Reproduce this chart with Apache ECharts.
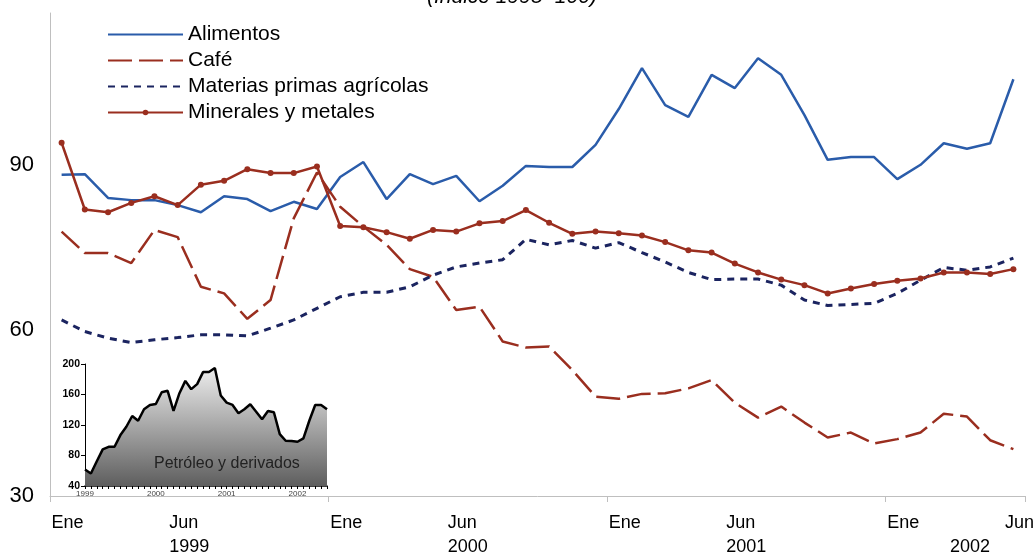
<!DOCTYPE html>
<html>
<head>
<meta charset="utf-8">
<script src="https://cdn.jsdelivr.net/npm/echarts@6/dist/echarts.min.js"></script>
<style>
  html, body { margin: 0; padding: 0; background: #fff; }
  #chart { width: 1035px; height: 557px; }
</style>
</head>
<body>
<div id="chart"></div>
<script>
// meses ene 1999 - jun 2002
const years = ['1999', '2000', '2001', '2002'];
const monthNames = ['Ene', 'Feb', 'Mar', 'Abr', 'May', 'Jun', 'Jul', 'Ago', 'Sep', 'Oct', 'Nov', 'Dic'];
const categories = [];
years.forEach(y => {
  monthNames.forEach(m => {
    if (categories.length < 42) categories.push(m + ' ' + y);
  });
});

const alimentos = [88.2, 88.3, 84.0, 83.6, 83.6, 82.7, 81.4, 84.3, 83.8, 81.6, 83.3, 82.0,
  87.8, 90.5, 83.8, 88.3, 86.5, 88.0, 83.4, 86.2, 89.8, 89.6, 89.6, 93.6,
  100.1, 107.5, 100.8, 98.7, 106.3, 103.9, 109.3, 106.3, 99.0, 90.9, 91.4, 91.4,
  87.4, 90.0, 93.9, 92.9, 93.9, 105.5];

const cafe = [77.9, 74.0, 74.0, 72.2, 78.2, 76.9, 67.9, 66.7, 62.1, 65.5, 80.3, 88.6,
  82.4, 78.8, 75.5, 71.1, 69.7, 63.7, 64.3, 58.0, 56.9, 57.1, 52.8, 48.0,
  47.6, 48.5, 48.6, 49.5, 51.0, 46.9, 44.2, 46.2, 43.3, 40.6, 41.5, 39.5,
  40.3, 41.5, 44.9, 44.4, 40.1, 38.5];

const materias = [61.9, 59.8, 58.6, 57.8, 58.3, 58.7, 59.2, 59.2, 59.0, 60.4, 61.9, 64.0,
  66.1, 66.9, 66.9, 67.9, 70.0, 71.5, 72.2, 72.8, 76.5, 75.5, 76.3, 74.9,
  75.9, 74.1, 72.4, 70.5, 69.2, 69.3, 69.3, 68.2, 65.5, 64.5, 64.7, 64.9,
  66.7, 69.1, 71.4, 70.9, 71.5, 73.1];

const minerales = [94.0, 81.9, 81.4, 83.1, 84.3, 82.7, 86.4, 87.1, 89.2, 88.5, 88.5, 89.7,
  78.9, 78.7, 77.8, 76.6, 78.2, 77.9, 79.4, 79.8, 81.8, 79.5, 77.5, 77.9,
  77.6, 77.2, 76.0, 74.5, 74.1, 72.1, 70.5, 69.2, 68.2, 66.7, 67.6, 68.4,
  69.0, 69.4, 70.5, 70.5, 70.2, 71.1];

const petroleo = [61.6, 56.3, 72.5, 88.0, 91.4, 91.4, 106.8, 117.7, 131.8, 125.6, 140.6, 146.3,
  147.6, 163.0, 164.8, 138.4, 161.7, 177.9, 167.0, 173.6, 189.4, 189.4, 194.7, 158.6,
  149.4, 146.3, 135.4, 140.6, 147.2, 137.5, 127.5, 138.4, 136.7, 108.1, 99.3, 98.9,
  98.0, 102.5, 125.6, 146.3, 146.3, 140.6];

// donde va el año debajo de los meses
const yearLabelAt = { 5: '1999', 17: '2000', 29: '2001', 39: '2002' };

const font = 'Liberation Sans, Arial, sans-serif';
const rojo = '#9a2e1f';
const noSymbol = { opacity: 0 };

const chart = echarts.init(document.getElementById('chart'));

chart.setOption({
  animation: false,
  textStyle: { fontFamily: font },
  title: [
    {
      text: '(Índice 1995=100)',
      left: 422,
      top: -18,
      textStyle: { fontSize: 21, fontStyle: 'italic', fontWeight: 'normal', color: '#000', fontFamily: font }
    },
    {
      text: 'Petróleo y derivados',
      left: 149,
      top: 451,
      textStyle: { fontSize: 16, fontWeight: 'normal', color: '#222', fontFamily: font }
    }
  ],
  legend: {
    orient: 'vertical',
    left: 102,
    top: 19,
    itemWidth: 75,
    itemHeight: 7,
    itemGap: 5,
    textStyle: { fontSize: 21, color: '#000', lineHeight: 21, fontFamily: font },
    data: [
      { name: 'Alimentos', itemStyle: noSymbol },
      { name: 'Café', itemStyle: noSymbol },
      { name: 'Materias primas agrícolas', itemStyle: noSymbol },
      { name: 'Minerales y metales' }
    ]
  },
  grid: [
    { left: 50, right: 10, top: 13, bottom: 61, outerBoundsMode: 'none', containLabel: false },
    { left: 85, top: 364, width: 242, height: 122, outerBoundsMode: 'none', containLabel: false }
  ],
  xAxis: [
    {
      type: 'category',
      gridIndex: 0,
      data: categories,
      boundaryGap: true,
      axisLine: { lineStyle: { color: '#bfbfbf', width: 1 } },
      axisTick: { show: true, interval: i => i % 12 === 0, length: 6, lineStyle: { color: '#bfbfbf' } },
      axisLabel: {
        interval: 0,
        margin: 18,
        fontSize: 18,
        color: '#000',
        padding: [0, 0, 0, 12],
        formatter: (v, i) => (i % 12 === 0 || i % 12 === 5) ? v.split(' ')[0] : ''
      }
    },
    {
      type: 'category',
      gridIndex: 0,
      data: categories,
      position: 'bottom',
      offset: 0,
      boundaryGap: true,
      axisLine: { show: false },
      axisTick: { show: false },
      axisLabel: {
        interval: 0,
        margin: 42,
        fontSize: 18,
        color: '#000',
        formatter: (v, i) => {
          if (!yearLabelAt[i]) return '';
          return i === 39 ? '{b|' + yearLabelAt[i] + '}' : '{a|' + yearLabelAt[i] + '}';
        },
        rich: {
          a: { fontSize: 18, color: '#000', padding: [0, 0, 0, 23] },
          b: { fontSize: 18, color: '#000', padding: [0, 0, 0, 6] }
        }
      }
    },
    {
      type: 'category',
      gridIndex: 1,
      data: categories,
      boundaryGap: false,
      axisLine: { lineStyle: { color: '#000', width: 1.5 } },
      axisTick: { show: true, interval: 0, length: 3, lineStyle: { color: '#000' } },
      axisLabel: {
        interval: 11,
        margin: 4,
        fontSize: 8,
        color: '#444',
        formatter: v => v.split(' ')[1]
      }
    }
  ],
  yAxis: [
    {
      type: 'value',
      gridIndex: 0,
      min: 30,
      max: 117.5,
      interval: 30,
      axisLine: { show: true, lineStyle: { color: '#bfbfbf' } },
      axisTick: { show: false },
      splitLine: { show: false },
      axisLabel: { fontSize: 22, color: '#000', margin: 16, showMaxLabel: false }
    },
    {
      type: 'value',
      gridIndex: 1,
      min: 40,
      max: 200,
      interval: 40,
      axisLine: { show: true, lineStyle: { color: '#000', width: 1 } },
      axisTick: { show: true, length: 4, lineStyle: { color: '#000' } },
      splitLine: { show: false },
      axisLabel: { fontSize: 10.5, fontWeight: 'bold', color: '#000', margin: 5 }
    }
  ],
  series: [
    {
      name: 'Alimentos',
      type: 'line',
      xAxisIndex: 0,
      yAxisIndex: 0,
      data: alimentos,
      symbol: 'none',
      color: '#2a5caa',
      lineStyle: { color: '#2a5caa', width: 2.5 }
    },
    {
      name: 'Café',
      type: 'line',
      xAxisIndex: 0,
      yAxisIndex: 0,
      data: cafe,
      symbol: 'none',
      color: rojo,
      lineStyle: { color: rojo, width: 2.5, type: [24, 7] }
    },
    {
      name: 'Materias primas agrícolas',
      type: 'line',
      xAxisIndex: 0,
      yAxisIndex: 0,
      data: materias,
      symbol: 'none',
      color: '#1b2460',
      lineStyle: { color: '#1b2460', width: 3, type: [7, 6] }
    },
    {
      name: 'Minerales y metales',
      type: 'line',
      xAxisIndex: 0,
      yAxisIndex: 0,
      data: minerales,
      symbol: 'circle',
      symbolSize: 6,
      showAllSymbol: true,
      color: rojo,
      itemStyle: { color: rojo },
      lineStyle: { color: rojo, width: 2.5 }
    },
    {
      name: 'Petróleo',
      type: 'line',
      xAxisIndex: 2,
      yAxisIndex: 1,
      data: petroleo,
      symbol: 'none',
      lineStyle: { color: '#000', width: 2.5 },
      areaStyle: {
        opacity: 1,
        color: new echarts.graphic.LinearGradient(0, 0, 0, 1, [
          { offset: 0, color: '#ededed' },
          { offset: 1, color: '#5e5e5e' }
        ])
      },
      z: 1
    }
  ]
});
</script>
</body>
</html>
